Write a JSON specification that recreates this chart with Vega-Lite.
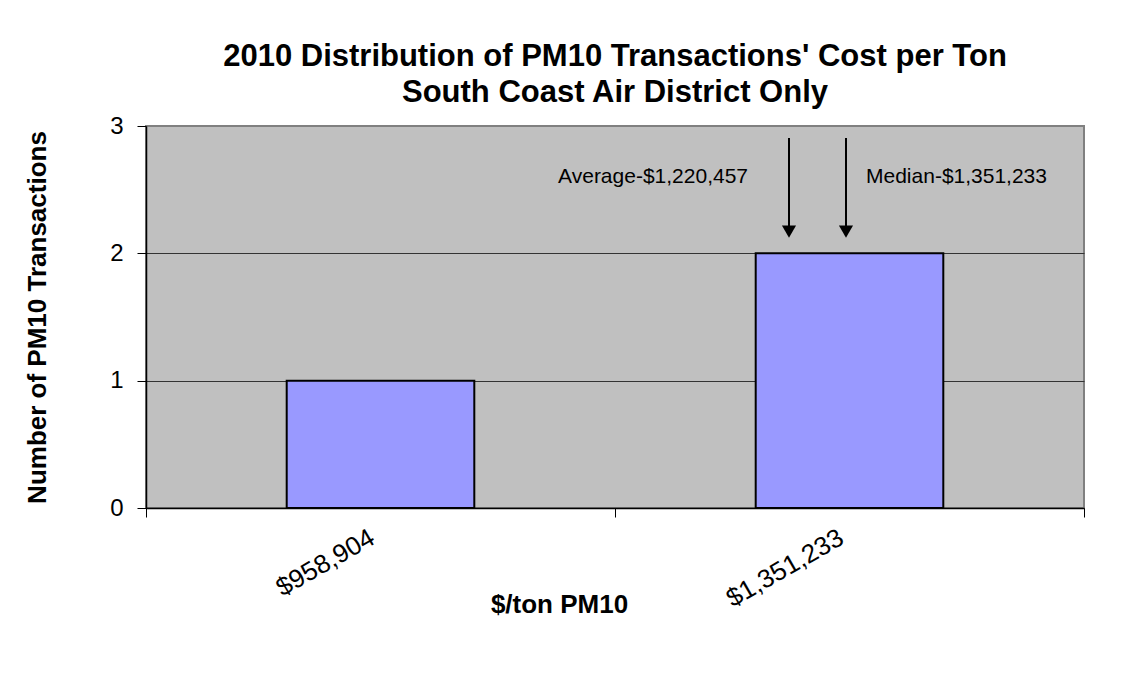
{
  "$schema": "https://vega.github.io/schema/vega-lite/v6.json",
  "width": 938,
  "height": 382,
  "autosize": {"type": "none"},
  "padding": {"left": 146, "top": 126, "right": 50, "bottom": 167},
  "background": "white",
  "config": {
    "font": "Liberation Sans",
    "view": {"fill": "#C0C0C0", "stroke": "#808080", "strokeWidth": 2}
  },
  "title": {
    "text": ["2010 Distribution of PM10 Transactions' Cost per Ton", "South Coast Air District Only"],
    "fontSize": 31,
    "fontWeight": "bold",
    "font": "Liberation Sans",
    "color": "#000000",
    "lineHeight": 36,
    "anchor": "middle",
    "offset": 5
  },
  "resolve": {"scale": {"x": "independent"}},
  "layer": [
    {
      "data": {"values": [
        {"cost": "$958,904", "count": 1},
        {"cost": "$1,351,233", "count": 2}
      ]},
      "mark": {"type": "bar", "fill": "#9999FF", "stroke": "#000000", "strokeWidth": 2, "width": {"band": 0.4}},
      "encoding": {
        "x": {
          "field": "cost", "type": "nominal", "sort": null,
          "scale": {"paddingInner": 0, "paddingOuter": 0},
          "axis": {
            "title": "$/ton PM10", "titleFontSize": 26, "titleFontWeight": "bold", "titleColor": "#000",
            "titleX": 413, "titleY": 104, "titleAnchor": "middle", "titleBaseline": "alphabetic",
            "labelAngle": -30, "labelFontSize": 26, "labelColor": "#000", "labelPadding": 7, "labelOffset": -15,
            "tickBand": "extent", "tickColor": "#000", "tickSize": 9, "domainColor": "#000", "domainWidth": 1.5
          }
        },
        "y": {
          "field": "count", "type": "quantitative",
          "scale": {"domain": [0, 3], "nice": false},
          "axis": {
            "title": "Number of PM10 Transactions", "titleFontSize": 26, "titleFontWeight": "bold", "titleColor": "#000",
            "titleX": -101, "titleBaseline": "alphabetic", "titleAnchor": "middle",
            "values": [0, 1, 2, 3], "format": "d",
            "labelFontSize": 24, "labelColor": "#000", "labelPadding": 14,
            "tickColor": "#000", "tickSize": 9, "domainColor": "#000", "domainWidth": 1.5,
            "grid": true,
            "gridColor": {"condition": {"test": "datum.value == 3", "value": "#808080"}, "value": "#333333"},
            "gridWidth": 1
          }
        }
      }
    },
    {
      "data": {"values": [
        {"pos": 1.371, "top": 2.906, "bottom": 2.16, "head": 2.17},
        {"pos": 1.4925, "top": 2.906, "bottom": 2.16, "head": 2.17}
      ]},
      "layer": [
        {
          "mark": {"type": "rule", "color": "#000", "strokeWidth": 2},
          "encoding": {
            "x": {"field": "pos", "type": "quantitative", "scale": {"domain": [0, 2], "nice": false, "zero": false}, "axis": null},
            "y": {"field": "top", "type": "quantitative"},
            "y2": {"field": "bottom"}
          }
        },
        {
          "mark": {"type": "point", "shape": "triangle-down", "filled": true, "color": "#000", "opacity": 1, "size": 200},
          "encoding": {
            "x": {"field": "pos", "type": "quantitative", "scale": {"domain": [0, 2], "nice": false, "zero": false}, "axis": null},
            "y": {"field": "head", "type": "quantitative"}
          }
        }
      ]
    },
    {
      "data": {"values": [
        {"pos": 1.2836, "yv": 2.5523, "label": "Average-$1,220,457", "al": "right"},
        {"pos": 1.5352, "yv": 2.5523, "label": "Median-$1,351,233", "al": "left"}
      ]},
      "layer": [
        {
          "transform": [{"filter": "datum.al == 'right'"}],
          "mark": {"type": "text", "align": "right", "baseline": "alphabetic", "fontSize": 21, "color": "#000"},
          "encoding": {
            "x": {"field": "pos", "type": "quantitative", "scale": {"domain": [0, 2], "nice": false, "zero": false}, "axis": null},
            "y": {"field": "yv", "type": "quantitative"},
            "text": {"field": "label"}
          }
        },
        {
          "transform": [{"filter": "datum.al == 'left'"}],
          "mark": {"type": "text", "align": "left", "baseline": "alphabetic", "fontSize": 21, "color": "#000"},
          "encoding": {
            "x": {"field": "pos", "type": "quantitative", "scale": {"domain": [0, 2], "nice": false, "zero": false}, "axis": null},
            "y": {"field": "yv", "type": "quantitative"},
            "text": {"field": "label"}
          }
        }
      ]
    }
  ]
}
